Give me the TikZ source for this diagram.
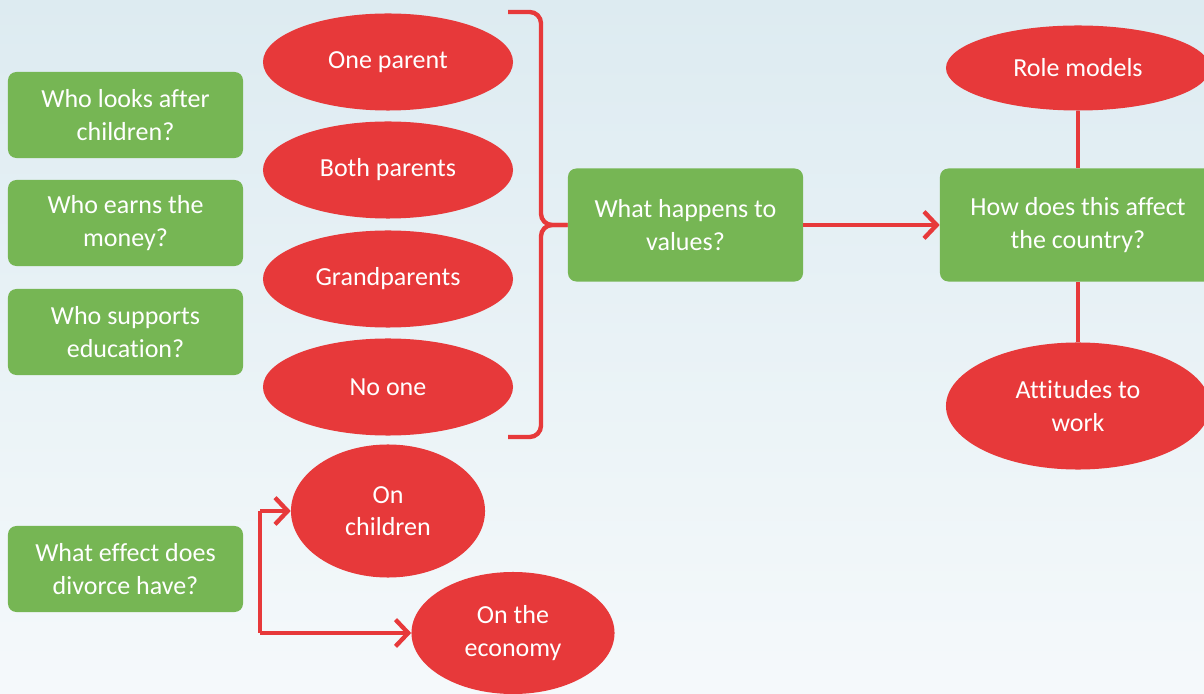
\documentclass[tikz,border=0pt]{standalone}
\usepackage{fontspec}
\setmainfont[Ligatures=NoCommon]{Carlito}
\usetikzlibrary{shapes.geometric,arrows.meta}

\definecolor{boxgreen}{RGB}{118,182,84}
\definecolor{ovalred}{RGB}{231,57,58}
\definecolor{bgtop}{RGB}{221,235,241}
\definecolor{bgbottom}{RGB}{245,249,251}

\begin{document}
\begin{tikzpicture}[x=0.025cm,y=-0.025cm,
    question/.style={rectangle, rounded corners=6pt, fill=boxgreen, text=white,
        align=center, inner sep=0pt, minimum width=5.875cm, minimum height=2.15cm,
        font=\fontsize{18.5}{23}\selectfont},
    answer/.style={ellipse, fill=ovalred, text=white, align=center, inner sep=0pt,
        font=\fontsize{18.5}{23}\selectfont},
    link/.style={draw=ovalred, line width=3.1pt},
    linkarrow/.style={link, -{Straight Barb[length=9pt,width=19pt]}}]

    % Background
    \clip (0,0) rectangle (1204,694);
    \shade[top color=bgtop, bottom color=bgbottom] (0,0) rectangle (1204,694);

    % Questions on the left
    \node[question] (looksAfter) at (125.5,115) {Who looks after\\children?};
    \node[question] (earnsMoney) at (125.5,223) {Who earns the\\money?};
    \node[question] (supportsEdu) at (125.5,332) {Who supports\\education?};

    % Who it could be
    \node[answer, minimum width=6.25cm, minimum height=2.425cm] (oneParent) at (388,62) {One parent};
    \node[answer, minimum width=6.25cm, minimum height=2.425cm] (bothParents) at (388,170) {Both parents};
    \node[answer, minimum width=6.25cm, minimum height=2.425cm] (grandparents) at (388,279) {Grandparents};
    \node[answer, minimum width=6.25cm, minimum height=2.425cm] (noOne) at (388,387) {No one};

    % Values and the country
    \node[question, minimum height=2.825cm] (values) at (685.5,225) {What happens to\\values?};
    \node[question, minimum width=6.9cm, minimum height=2.825cm] (country) at (1078,225) {How does this affect\\the country?};
    \node[answer, minimum width=6.6cm, minimum height=2.125cm] (roleModels) at (1078,68) {Role models};
    \node[answer, minimum width=6.6cm, minimum height=3.175cm] (attitudes) at (1078,406) {Attitudes to\\work};

    % Brace round the answers
    \coordinate (braceTop) at (508,12);
    \coordinate (braceBot) at (508,437);
    \draw[link, rounded corners=8pt] (braceTop) -- (541,12) -- (541,225) -- (values.west);
    \draw[link, rounded corners=8pt] (braceBot) -- (541,437) -- (541,225) -- (values.west);

    % Links on the right
    \draw[linkarrow] (values) -- (country);
    \draw[link] (roleModels) -- (country);
    \draw[link] (country) -- (attitudes);

    % Divorce
    \node[question] (divorce) at (125.5,569) {What effect does\\divorce have?};
    \node[answer, minimum width=4.85cm, minimum height=3.325cm] (onChildren) at (388,511) {On\\children};
    \node[answer, minimum width=5.075cm, minimum height=3.05cm] (onEconomy) at (513,633) {On the\\economy};
    \coordinate (fork) at (260,569);
    \draw[link] (fork |- onChildren.west) -- (fork |- onEconomy.west);
    \draw[linkarrow] (fork |- onChildren.west) -- (onChildren.west);
    \draw[linkarrow] (fork |- onEconomy.west) -- (onEconomy.west);
\end{tikzpicture}
\end{document}
